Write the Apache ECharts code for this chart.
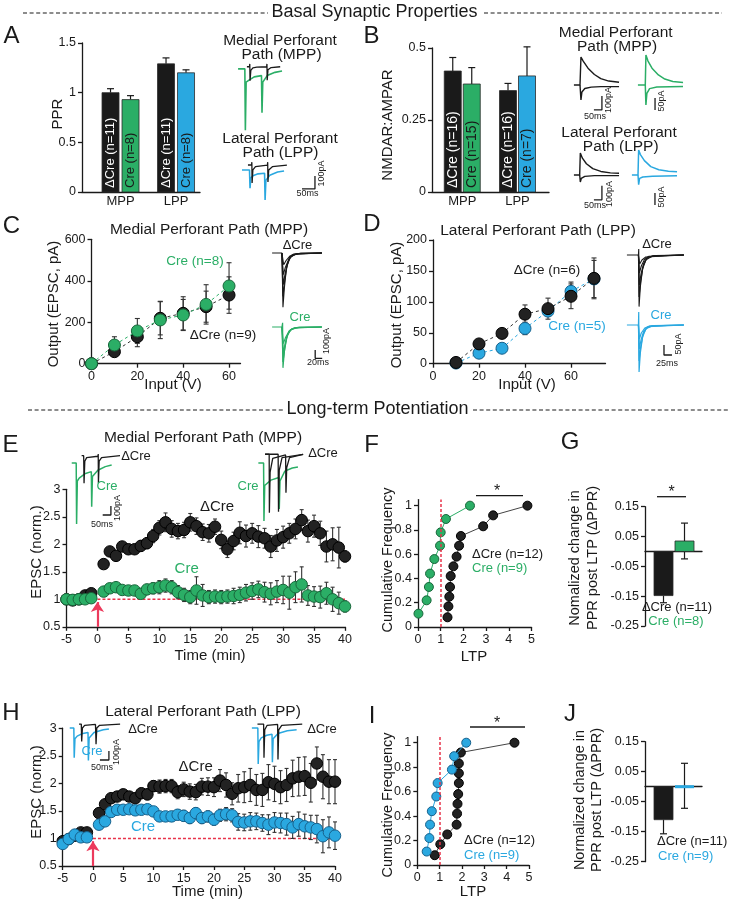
<!DOCTYPE html>
<html>
<head>
<meta charset="utf-8">
<title>Basal synaptic properties and LTP</title>
<script src="https://cdn.jsdelivr.net/npm/echarts@6.0.0/dist/echarts.min.js"></script>
<style>
html,body{margin:0;padding:0;background:#ffffff;}
#chart{width:729px;height:903px;}
</style>
</head>
<body>
<div id="chart"></div>
<script>
// ================= DATA =================
// Panel A – paired-pulse ratio
const pathways = ['MPP', 'LPP'];
const pprDcre = [1.00, 1.29];
const pprDcreErr = [0.04, 0.06];
const pprCre = [0.93, 1.20];
const pprCreErr = [0.04, 0.03];
const pprDcreN = ['ΔCre (n=11)', 'ΔCre (n=11)'];
const pprCreN = ['Cre (n=8)', 'Cre (n=8)'];
const pprTicks = [0, 0.5, 1, 1.5];

// Panel B – NMDAR:AMPAR
const nmdaDcre = [0.42, 0.352];
const nmdaDcreErr = [0.047, 0.025];
const nmdaCre = [0.375, 0.403];
const nmdaCreErr = [0.057, 0.101];
const nmdaDcreN = ['ΔCre (n=16)', 'ΔCre (n=16)'];
const nmdaCreN = ['Cre (n=15)', 'Cre (n=7)'];
const nmdaTicks = [0, 0.25, 0.5];

// Panel C – input/output MPP
const mppInput = [0, 10, 20, 30, 40, 50, 60];
const mppDcre = [0, 58, 130, 219, 243, 275, 331];
const mppDcreErr = [4, 18, 48, 80, 80, 75, 88];
const mppCre = [0, 90, 158, 211, 235, 286, 375];
const mppCreErr = [4, 40, 60, 90, 75, 95, 112];
const ioXTicks = [0, 20, 40, 60];
const mppYTicks = [0, 200, 400, 600];

// Panel D – input/output LPP
const lppInput = [10, 20, 30, 40, 50, 60, 70];
const lppDcre = [2, 32, 49, 80, 89, 109, 138];
const lppDcreErr = [2, 6, 8, 15, 17, 20, 33];
const lppCre = [1, 17, 25, 57, 85, 117, 137];
const lppCreErr = [1, 4, 5, 10, 8, 15, 30];
const lppYTicks = [0, 50, 100, 150, 200];

// Panels E / H – LTP time course
const ltpTime = [-5,-4,-3,-2,-1,1,2,3,4,5,6,7,8,9,10,11,12,13,14,15,16,17,18,19,20,21,22,23,24,25,26,27,28,29,30,31,32,33,34,35,36,37,38,39,40];
const timeTicks = [-5, 0, 5, 10, 15, 20, 25, 30, 35, 40];
const normTicks = [0.5, 1, 1.5, 2, 2.5, 3];
const stimTime = 0, lastTime = 40, normBaseline = 1, arrowFrom = 0.5, arrowTo = 0.95;

const eDcre = [1.00,0.98,1.00,1.07,1.11, 1.64,1.87,1.79,1.96,1.91,1.91,1.97,2.02,2.15,2.30, 2.40,2.28,2.24,2.26,2.40,2.33,2.22,2.20,2.32,2.08, 1.91,2.06,2.21,2.15,2.20,2.14,2.11,1.96,2.07,2.13, 2.20,2.28,2.44,2.24,2.33,2.20,1.96,2.00,1.94,1.78];
const eDcreErr = [0.03,0.03,0.03,0.04,0.04, 0.03,0.04,0.05,0.06,0.08,0.08,0.10,0.10,0.12,0.13, 0.17,0.15,0.14,0.14,0.16,0.15,0.15,0.16,0.14,0.16, 0.15,0.16,0.20,0.20,0.18,0.20,0.18,0.20,0.20,0.20, 0.18,0.18,0.19,0.20,0.20,0.22,0.28,0.30,0.37,0.10];
const eCre = [1.00,0.99,1.00,1.00,1.02, 1.14,1.20,1.22,1.17,1.16,1.16,1.10,1.18,1.20,1.22, 1.25,1.22,1.13,1.08,1.04,1.16,1.07,1.04,1.05,1.04, 1.05,1.06,1.08,1.12,1.15,1.18,1.13,1.10,1.14,1.17, 1.12,1.22,1.27,1.07,1.05,1.04,1.11,1.00,0.93,0.87];
const eCreErr = [0.04,0.04,0.04,0.04,0.05, 0.06,0.07,0.08,0.08,0.08,0.08,0.08,0.09,0.10,0.12, 0.12,0.12,0.12,0.12,0.12,0.25,0.20,0.12,0.12,0.12, 0.12,0.14,0.14,0.15,0.15,0.15,0.18,0.20,0.20,0.25, 0.30,0.28,0.32,0.18,0.18,0.20,0.20,0.22,0.20,0.10];

const hDcre = [0.95,0.99,1.05,1.11,1.11, 1.46,1.62,1.73,1.76,1.80,1.76,1.73,1.82,1.80,1.95, 1.94,1.95,1.95,1.84,1.89,1.85,1.84,1.94,1.94,1.93, 2.05,1.97,1.81,1.91,1.93,1.97,1.88,1.88,2.02,1.99, 1.93,1.97,2.09,2.12,2.13,2.01,2.36,2.12,2.03,2.03];
const hDcreErr = [0.03,0.03,0.03,0.03,0.03, 0.04,0.05,0.06,0.07,0.07,0.08,0.08,0.09,0.10,0.10, 0.12,0.12,0.12,0.12,0.13,0.14,0.14,0.15,0.16,0.17, 0.20,0.22,0.20,0.25,0.28,0.30,0.28,0.30,0.32,0.32, 0.30,0.30,0.33,0.35,0.35,0.35,0.30,0.40,0.40,0.40];
const hCre = [0.90,0.99,1.07,1.02,1.02, 1.25,1.31,1.48,1.52,1.52,1.53,1.51,1.52,1.53,1.49, 1.40,1.40,1.40,1.43,1.41,1.37,1.46,1.37,1.40,1.34, 1.42,1.44,1.42,1.30,1.29,1.31,1.31,1.28,1.25,1.29, 1.28,1.26,1.20,1.26,1.22,1.20,1.17,1.04,1.11,1.05];
const hCreErr = [0.03,0.03,0.03,0.03,0.03, 0.04,0.05,0.05,0.06,0.06,0.06,0.07,0.07,0.08,0.08, 0.08,0.08,0.09,0.09,0.10,0.10,0.10,0.10,0.10,0.10, 0.11,0.12,0.12,0.15,0.15,0.16,0.15,0.15,0.18,0.18, 0.18,0.20,0.20,0.22,0.22,0.22,0.25,0.30,0.28,0.25];

// Panels F / I – cumulative distributions of LTP
const cdfMppDcre = [1.30,1.34,1.38,1.41,1.44,1.56,1.70,1.81,1.89,2.87,3.31,4.82];
const cdfDcreFrac = [0.08,0.17,0.25,0.33,0.42,0.50,0.58,0.67,0.75,0.83,0.92,1.00];
const cdfMppCre = [0.02,0.38,0.48,0.53,0.72,0.97,1.00,1.23,2.29];
const cdfCreFrac = [0.11,0.22,0.33,0.44,0.56,0.67,0.78,0.89,1.00];
const cdfLppDcre = [0.78,1.03,1.34,1.76,1.78,1.80,1.83,1.86,1.86,1.86,1.95,4.35];
const cdfLppCre = [0.42,0.54,0.57,0.65,0.85,0.91,1.55,1.65,2.19];
const ltpRef = 1;
const ltpTicks = [0, 1, 2, 3, 4, 5];
const fracTicks = [0, 0.2, 0.4, 0.6, 0.8, 1];

// Panels G / J – change in PPR after LTP
const dpprMpp = [-0.148, 0.035];
const dpprMppErr = [0.024, 0.06];
const dpprLpp = [-0.11, 0.003];
const dpprLppErr = [0.047, 0.075];
const dpprTicks = [-0.25, -0.15, -0.05, 0.05, 0.15];

// Example traces ([ms, pA])
const trA_mpp_cre = [[8,-8],[34,-8],[36,-480],[39,-110],[50,-95],[70,-70],[98,-60],[100,-346],[103,-110],[120,-60],[150,-35],[177,-25]];
const trA_mpp_dcre = [[42,8],[52,8],[53,30],[54,-100],[57,-20],[65,0],[80,5],[118,8],[119,30],[120,-95],[123,-15],[135,2],[170,8]];
const trA_lpp_cre = [[23,0],[52,0],[54,-140],[57,-60],[65,-45],[85,-30],[110,-25],[112,-231],[115,-80],[130,-40],[160,-15],[185,-8]];
const trA_lpp_dcre = [[46,38],[60,38],[61,60],[62,-100],[65,0],[75,25],[121,38],[122,60],[123,-92],[126,0],[140,25],[196,38]];
const scaleA = [[254,-146],[304,-146],[304,-46]];

const trB_mpp_dcre_up = [[12,0],[50,0],[56,200],[70,170],[100,120],[140,75],[180,45],[230,28],[294,20]];
const trB_mpp_dcre_dn = [[50,0],[56,-107],[62,-50],[80,-25],[120,-15],[180,-12],[294,-12]];
const trB_mpp_cre_up = [[12,0],[58,0],[62,125],[75,100],[100,70],[140,42],[180,25],[230,15],[294,10]];
const trB_mpp_cre_dn = [[58,0],[62,-83],[68,-35],[85,-15],[130,-8],[294,-6]];
const trB_lpp_dcre_up = [[12,0],[48,0],[52,157],[65,120],[90,80],[130,45],[180,25],[240,15],[294,12]];
const trB_lpp_dcre_dn = [[48,0],[52,-50],[58,-25],[80,-10],[140,-5],[294,-5]];
const trB_lpp_cre_up = [[12,0],[50,0],[54,104],[65,85],[90,60],[130,35],[180,22],[240,16],[294,14]];
const trB_lpp_cre_dn = [[50,0],[54,-40],[60,-14],[80,-8],[140,-5],[294,-3]];
const scaleB_dcre = [[137,-178],[187,-178],[187,-78]];
const scaleB_mpp_cre = [[119,-104],[119,-54]];
const scaleB_lpp_cre = [[156,-125],[156,-75]];

const trC_dcre_1 = [[6,0],[34,0],[37,-650],[41,-420],[47,-180],[55,-60],[70,-15],[148,0]];
const trC_dcre_2 = [[34,0],[37,-520],[42,-330],[49,-150],[58,-50],[75,-10],[148,0]];
const trC_dcre_3 = [[34,0],[38,-380],[43,-250],[51,-110],[61,-35],[80,-8],[148,0]];
const trC_dcre_4 = [[34,0],[38,-260],[44,-170],[53,-80],[64,-25],[85,-5],[148,0]];
const trC_dcre_5 = [[34,0],[39,-140],[46,-90],[56,-40],[68,-12],[90,-3],[148,0]];
const trC_cre_1 = [[6,0],[34,0],[36,50],[37,-490],[41,-300],[47,-130],[55,-45],[70,-10],[148,0]];
const trC_cre_2 = [[34,0],[37,-420],[42,-260],[49,-110],[58,-35],[75,-8],[148,0]];
const trC_cre_3 = [[34,0],[38,-320],[43,-200],[51,-85],[61,-28],[80,-5],[148,0]];
const trC_cre_4 = [[34,0],[38,-200],[44,-130],[53,-60],[64,-18],[85,-4],[148,0]];
const scaleC = [[129,-276],[129,-376],[149,-376]];

const trD_dcre_1 = [[6,0],[42,0],[43,30],[44,-258],[48,-160],[55,-70],[65,-25],[85,-5],[184,0]];
const trD_dcre_2 = [[42,0],[44,-210],[49,-130],[57,-55],[68,-18],[90,-4],[184,0]];
const trD_dcre_3 = [[42,0],[45,-150],[50,-95],[59,-40],[70,-12],[95,-3],[184,0]];
const trD_dcre_4 = [[42,0],[45,-90],[51,-55],[61,-22],[75,-6],[184,0]];
const trD_dcre_5 = [[42,0],[46,-45],[53,-25],[65,-10],[184,0]];
const trD_cre_1 = [[6,0],[42,0],[43,65],[44,-235],[48,-140],[55,-60],[65,-20],[85,-4],[184,0]];
const trD_cre_2 = [[42,0],[44,-180],[49,-110],[57,-45],[68,-14],[90,-3],[184,0]];
const trD_cre_3 = [[42,0],[45,-120],[50,-75],[59,-30],[72,-8],[184,0]];
const trD_cre_4 = [[42,0],[45,-70],[51,-40],[62,-15],[78,-4],[184,0]];
const scaleD = [[122,-100],[122,-150],[147,-150]];

const trE_cre_a = [[20,0],[44,0],[46,-677],[50,-200],[60,-167],[90,-120],[125,-96],[127,-485],[131,-150],[160,-80],[200,-40],[234,-22]];
const trE_dcre_a = [[73,81],[84,81],[85,100],[86,-225],[90,20],[100,60],[160,75],[162,100],[163,-225],[167,20],[180,60],[279,81]];
const scaleE = [[186,-577],[230,-577],[230,-477]];
const trE_cre_b = [[18,0],[46,0],[48,-644],[52,-250],[60,-233],[85,-190],[128,-160],[130,-511],[134,-200],[160,-90],[200,-55],[230,-44]];
const trE_dcre_b = [[54,97],[76,97],[77,-552],[81,-100],[95,50],[164,90],[165,110],[166,-330],[170,-50],[185,60],[258,95]];
const trE_dcre_c = [[54,97],[124,97],[125,110],[126,-540],[130,-80],[145,60],[258,95]];

const trH_cre_a = [[20,0],[42,0],[44,-330],[48,-120],[60,-90],[90,-60],[118,-50],[120,-360],[124,-110],[150,-50],[200,-20],[230,-10]];
const trH_dcre_a = [[70,44],[82,44],[83,60],[84,-150],[88,0],[100,30],[158,40],[160,60],[161,-180],[165,0],[180,30],[290,44]];
const scaleH = [[182,-355],[230,-355],[230,-255]];
const trH_cre_b = [[10,0],[42,0],[44,-400],[48,-150],[60,-110],[90,-80],[118,-70],[120,-380],[124,-120],[150,-60],[200,-30],[250,-20]];
const trH_dcre_b = [[40,44],[73,44],[74,60],[75,-330],[79,-20],[92,30],[148,40],[149,60],[150,-350],[154,-20],[170,30],[280,44]];

// ================= STYLE / HELPERS =================
const FONT = '"Liberation Sans", Arial, Helvetica, sans-serif';
const INK = '#1a1a1a';
const GREEN = '#2bae66', GREEN_D = '#18663a';
const BLUE = '#2aa8e0', BLUE_D = '#17618c';
const RED = '#e8334a', ARROW = '#ec3a5c';

const grids = [], xAxes = [], yAxes = [], series = [], graphics = [];

function addGrid(left, top, width, height, xa, ya) {
  const gi = grids.length;
  grids.push({left: left, top: top, width: width, height: height, containLabel: false});
  xAxes.push(Object.assign({gridIndex: gi}, xa));
  yAxes.push(Object.assign({gridIndex: gi}, ya));
  return gi;
}
function axis(min, max, ticks, fmt, o) {
  o = o || {};
  return {
    type: 'value', min: min, max: max,
    splitLine: {show: false},
    axisLine: {show: true, onZero: !!o.onZero, lineStyle: {color: INK, width: 1.3}},
    axisTick: o.noTicks ? {show: false} : {show: true, length: 4, customValues: ticks, lineStyle: {color: INK, width: 1.3}},
    axisLabel: o.noLabels ? {show: false} : {show: true, customValues: ticks, formatter: fmt || (v => String(v)),
      color: INK, fontSize: o.fs || 12.5, fontFamily: FONT, margin: o.margin == null ? 6 : o.margin}
  };
}
function hidden(min, max) { return {type: 'value', min: min, max: max, show: false, splitLine: {show: false}}; }
function inset(left, top, width, height, xmax, ymin, ymax) {
  return addGrid(left, top, width, height, hidden(0, xmax), hidden(ymin, ymax));
}
function trace(gi, data, color, w) {
  series.push({type: 'line', xAxisIndex: gi, yAxisIndex: gi, data: data, symbol: 'none', showSymbol: false,
    clip: false, silent: true, z: 2, lineStyle: {color: color, width: w || 1.2}, emphasis: {disabled: true}});
}
function bars(gi, values, errs, offset, width, fills, errModes, labels, labelColors, labelSize) {
  series.push({
    type: 'custom', xAxisIndex: gi, yAxisIndex: gi, clip: false, silent: true, z: 3,
    encode: {x: 0, y: 1},
    data: values.map((v, i) => [i, v, errs[i]]),
    renderItem: function (params, api) {
      const i = params.dataIndex;
      const xv = api.value(0), v = api.value(1), e = api.value(2);
      const p0 = api.coord([xv, 0]), p1 = api.coord([xv, v]);
      const cx = p0[0] + offset;
      const dir = v >= 0 ? 1 : -1;
      const hi = api.coord([xv, v + dir * e])[1];
      const lo = api.coord([xv, v - dir * e])[1];
      const es = {stroke: INK, lineWidth: 1.2};
      const kids = [];
      const both = errModes[i] === 'both';
      kids.push({type: 'line', shape: {x1: cx, y1: both ? lo : p1[1], x2: cx, y2: hi}, style: es});
      kids.push({type: 'line', shape: {x1: cx - 3.5, y1: hi, x2: cx + 3.5, y2: hi}, style: es});
      if (both) kids.push({type: 'line', shape: {x1: cx - 3.5, y1: lo, x2: cx + 3.5, y2: lo}, style: es});
      const h = Math.abs(p1[1] - p0[1]);
      const small = h < 4;
      kids.push({type: 'rect', shape: {x: cx - width / 2, y: small ? p0[1] - 1.5 : Math.min(p0[1], p1[1]), width: width, height: small ? 3 : h},
        style: {fill: fills[i], stroke: small ? fills[i] : '#2b2b2b', lineWidth: small ? 0 : 0.8}});
      if (labels) kids.push({type: 'text', x: cx, y: p0[1] - 4, rotation: Math.PI / 2,
        style: {text: labels[i], fill: labelColors[i], font: labelSize + 'px ' + FONT,
          align: 'left', verticalAlign: 'middle', textAlign: 'left', textVerticalAlign: 'middle'}});
      return {type: 'group', children: kids};
    }
  });
}
function errbars(gi, xs, ys, es, color, cap, z) {
  series.push({type: 'custom', xAxisIndex: gi, yAxisIndex: gi, clip: false, silent: true, z: z || 2,
    encode: {x: 0, y: 1},
    data: xs.map((x, i) => [x, ys[i], es[i]]),
    renderItem: function (params, api) {
      const x = api.value(0), y = api.value(1), e = api.value(2);
      const a = api.coord([x, y + e]), b = api.coord([x, y - e]);
      const s = {stroke: color, lineWidth: 1.1};
      return {type: 'group', children: [
        {type: 'line', shape: {x1: a[0], y1: a[1], x2: b[0], y2: b[1]}, style: s},
        {type: 'line', shape: {x1: a[0] - cap, y1: a[1], x2: a[0] + cap, y2: a[1]}, style: s},
        {type: 'line', shape: {x1: b[0] - cap, y1: b[1], x2: b[0] + cap, y2: b[1]}, style: s}
      ]};
    }});
}
function points(gi, xs, ys, fill, border, size, z, line) {
  const s = {type: line ? 'line' : 'scatter', xAxisIndex: gi, yAxisIndex: gi, silent: true, z: z || 3,
    data: xs.map((x, i) => [x, ys[i]]), symbol: 'circle', symbolSize: size, clip: false,
    emphasis: {disabled: true},
    itemStyle: {color: fill, borderColor: border, borderWidth: 1, opacity: 1}};
  if (line) { s.lineStyle = line; s.showSymbol = true; }
  series.push(s);
  return s;
}
function T(x, y, text, size, color, o) {
  o = o || {};
  graphics.push({type: 'text', x: x, y: y, rotation: o.rot ? Math.PI / 2 : 0, silent: true, z: 100,
    style: {text: text, fill: color || INK, font: size + 'px ' + FONT,
      textAlign: o.align || 'center', textVerticalAlign: 'middle', align: o.align || 'center', verticalAlign: 'middle'}});
}
function L(x1, y1, x2, y2, dash) {
  graphics.push({type: 'line', silent: true, z: 100, shape: {x1: x1, y1: y1, x2: x2, y2: y2},
    style: {stroke: INK, lineWidth: dash ? 1.1 : 1.3, lineDash: dash || null}});
}
const catFmt = v => pathways[Math.round(v)];
const dpprFmt = v => v.toFixed(2);

// ================= PANEL A =================
const gA = addGrid(82, 43, 118, 149, axis(-0.694, 1.432, [0, 1], catFmt, {noTicks: true, margin: 3, onZero: true, fs: 13}), axis(0, 1.5, pprTicks));
bars(gA, pprDcre, pprDcreErr, -10, 17, [INK, INK], ['out', 'out'], pprDcreN, ['#ffffff', '#ffffff'], 13);
bars(gA, pprCre, pprCreErr, 10, 17, [GREEN, BLUE], ['out', 'out'], pprCreN, [INK, INK], 13);
const gAm = inset(236, 60, 52, 78, 200, -540, 60);
trace(gAm, trA_mpp_cre, GREEN, 1.6);
trace(gAm, trA_mpp_dcre, INK, 1.3);
const gAl = inset(236, 158, 90, 48, 346.5, -277, 92);
trace(gAl, trA_lpp_cre, BLUE, 1.6);
trace(gAl, trA_lpp_dcre, INK, 1.3);
trace(gAl, scaleA, INK, 1.3);

// ================= PANEL B =================
const gB = addGrid(432, 48, 117, 144, axis(-0.5475, 1.57, [0, 1], catFmt, {noTicks: true, margin: 3, onZero: true, fs: 13}), axis(0, 0.5, nmdaTicks));
bars(gB, nmdaDcre, nmdaDcreErr, -9.5, 17, [INK, INK], ['out', 'out'], nmdaDcreN, ['#ffffff', '#ffffff'], 14);
bars(gB, nmdaCre, nmdaCreErr, 9.5, 17, [GREEN, BLUE], ['out', 'out'], nmdaCreN, [INK, INK], 14);
const gBm1 = inset(572, 50, 52, 62, 325, -193, 250);
trace(gBm1, trB_mpp_dcre_up, INK, 1.4); trace(gBm1, trB_mpp_dcre_dn, INK, 1.4); trace(gBm1, scaleB_dcre, INK, 1.3);
const gBm2 = inset(636, 50, 52, 62, 325, -112.5, 146);
trace(gBm2, trB_mpp_cre_up, GREEN, 1.5); trace(gBm2, trB_mpp_cre_dn, GREEN, 1.5); trace(gBm2, scaleB_mpp_cre, INK, 1.3);
const gBl1 = inset(572, 145, 52, 62, 325, -229, 214);
trace(gBl1, trB_lpp_dcre_up, INK, 1.4); trace(gBl1, trB_lpp_dcre_dn, INK, 1.4); trace(gBl1, scaleB_dcre, INK, 1.3);
const gBl2 = inset(630, 145, 52, 62, 325, -133, 125);
trace(gBl2, trB_lpp_cre_up, BLUE, 1.5); trace(gBl2, trB_lpp_cre_dn, BLUE, 1.5); trace(gBl2, scaleB_lpp_cre, INK, 1.3);

// ================= PANEL C =================
const gC = addGrid(91.5, 239.3, 149, 124.4, axis(0, 65, ioXTicks), axis(0, 600, mppYTicks));
errbars(gC, mppInput, mppDcre, mppDcreErr, '#333', 2.5, 2);
errbars(gC, mppInput, mppCre, mppCreErr, '#333', 2.5, 2);
points(gC, mppInput, mppDcre, '#222', '#000', 12, 3, {color: '#333', width: 1, type: [3, 3]});
points(gC, mppInput, mppCre, GREEN, GREEN_D, 12, 4, {color: GREEN, width: 1, type: [3, 3]});
const gC1 = inset(270, 248, 55, 62, 157, -684, 60);
[trC_dcre_1, trC_dcre_2, trC_dcre_3, trC_dcre_4, trC_dcre_5].forEach(d => trace(gC1, d, INK, 1.1));
const gC2 = inset(270, 322, 55, 48, 157, -516, 60);
[trC_cre_1, trC_cre_2, trC_cre_3, trC_cre_4].forEach(d => trace(gC2, d, GREEN, 1.2));
trace(gC2, scaleC, INK, 1.3);

// ================= PANEL D =================
const gD = addGrid(433, 240, 172.5, 123.7, axis(0, 75, ioXTicks), axis(0, 200, lppYTicks));
errbars(gD, lppInput, lppCre, lppCreErr, '#333', 2.5, 2);
errbars(gD, lppInput, lppDcre, lppDcreErr, '#333', 2.5, 2);
points(gD, lppInput, lppCre, BLUE, BLUE_D, 12, 3, {color: BLUE, width: 1, type: [3, 3]});
points(gD, lppInput, lppDcre, '#222', '#000', 12, 4, {color: '#333', width: 1, type: [3, 3]});
const gD1 = inset(625, 248, 62, 62, 194, -275, 35);
[trD_dcre_1, trD_dcre_2, trD_dcre_3, trD_dcre_4, trD_dcre_5].forEach(d => trace(gD1, d, INK, 1.1));
const gD2 = inset(625, 310, 62, 63, 194, -240, 75);
[trD_cre_1, trD_cre_2, trD_cre_3, trD_cre_4].forEach(d => trace(gD2, d, BLUE, 1.2));
trace(gD2, scaleD, INK, 1.3);

// ================= PANEL E / H =================
function ltpPanel(gi, dc, dcErr, cr, crErr, crFill, crBorder) {
  series.push({type: 'line', xAxisIndex: gi, yAxisIndex: gi, data: [[stimTime, normBaseline], [lastTime, normBaseline]],
    symbol: 'none', silent: true, clip: false, z: 1, lineStyle: {color: RED, width: 1.6, type: [3, 2]},
    markLine: {silent: true, symbol: ['none', 'arrow'], symbolSize: 10, label: {show: false}, animation: false,
      lineStyle: {color: ARROW, width: 2.2, type: 'solid'},
      data: [[{coord: [stimTime, arrowFrom]}, {coord: [stimTime, arrowTo]}]]}});
  errbars(gi, ltpTime, dc, dcErr, '#333', 2, 2);
  points(gi, ltpTime, dc, '#222', '#000', 11.5, 3);
  errbars(gi, ltpTime, cr, crErr, '#333', 2, 4);
  points(gi, ltpTime, cr, crFill, crBorder, 11.5, 5);
}
const gE = addGrid(66.5, 489.3, 278.5, 137.5, axis(-5, 40, timeTicks), axis(0.5, 3, normTicks));
ltpPanel(gE, eDcre, eDcreErr, eCre, eCreErr, GREEN, GREEN_D);
const gE1 = inset(68, 448, 60, 82, 321.6, -743.7, 166.5);
trace(gE1, trE_cre_a, GREEN, 1.5); trace(gE1, trE_dcre_a, INK, 1.3); trace(gE1, scaleE, INK, 1.3);
const gE2 = inset(255, 448, 60, 82, 321.6, -743.7, 166.5);
trace(gE2, trE_cre_b, GREEN, 1.5); trace(gE2, trE_dcre_b, INK, 1.3); trace(gE2, trE_dcre_c, INK, 1.3);

const gH = addGrid(62.7, 728.2, 272.3, 137.8, axis(-5, 40, timeTicks), axis(0.5, 3, normTicks));
ltpPanel(gH, hDcre, hDcreErr, hCre, hCreErr, BLUE, BLUE_D);
const gH1 = inset(66, 718, 60, 52, 321.6, -466, 111);
trace(gH1, trH_cre_a, BLUE, 1.5); trace(gH1, trH_dcre_a, INK, 1.3); trace(gH1, scaleH, INK, 1.3);
const gH2 = inset(250, 718, 60, 52, 321.6, -466, 111);
trace(gH2, trH_cre_b, BLUE, 1.5); trace(gH2, trH_dcre_b, INK, 1.3);

// ================= PANEL F / I =================
function cdfPanel(gi, dc, cr, crColor, crBorder) {
  const s = points(gi, dc, cdfDcreFrac, '#222', '#000', 9, 3, {color: '#444', width: 1});
  s.markLine = {silent: true, symbol: ['none', 'none'], label: {show: false}, animation: false,
    lineStyle: {color: RED, width: 1.5, type: [3, 2]}, data: [{xAxis: ltpRef}]};
  points(gi, cr, cdfCreFrac, crColor, crBorder, 9, 4, {color: crColor, width: 1});
}
const gF = addGrid(418, 499.6, 113.5, 127.4, axis(0, 5, ltpTicks), axis(0, 1.05, fracTicks));
cdfPanel(gF, cdfMppDcre, cdfMppCre, GREEN, GREEN_D);
const gI = addGrid(417.3, 736.6, 111.7, 128.4, axis(0, 5, ltpTicks), axis(0, 1.05, fracTicks));
cdfPanel(gI, cdfLppDcre, cdfLppCre, BLUE, BLUE_D);

// ================= PANEL G / J =================
const gG = addGrid(645, 506.7, 57, 119.3, axis(-0.881, 1.833, [], null, {noTicks: true, noLabels: true, onZero: true}), axis(-0.25, 0.15, dpprTicks, dpprFmt));
bars(gG, dpprMpp, dpprMppErr, 0, 19, [INK, GREEN], ['out', 'both'], null);
const gJ = addGrid(645, 741.7, 57, 120, axis(-0.881, 1.833, [], null, {noTicks: true, noLabels: true, onZero: true}), axis(-0.25, 0.15, dpprTicks, dpprFmt));
bars(gJ, dpprLpp, dpprLppErr, 0, 19, [INK, BLUE], ['out', 'both'], null);

// ================= TEXT =================
T(374.5, 12.5, 'Basal Synaptic Properties', 18);
L(23, 13, 268, 13, [4, 2.6]); L(484, 13, 722, 13, [4, 2.6]);
T(377.5, 409.5, 'Long-term Potentiation', 18);
L(28, 410, 283, 410, [4, 2.6]); L(473, 410, 728, 410, [4, 2.6]);

T(11.5, 36, 'A', 24); T(371.5, 36, 'B', 24); T(11.5, 226, 'C', 24); T(372, 224, 'D', 24);
T(10.5, 445, 'E', 24); T(371.5, 445, 'F', 24); T(570, 442.5, 'G', 24);
T(11, 713, 'H', 24); T(372, 716, 'I', 24); T(570, 714, 'J', 24);

// A
T(58, 114, 'PPR', 15, INK, {rot: 1});
T(280, 40.7, 'Medial Perforant', 15.5); T(281.5, 54.5, 'Path (MPP)', 15.5);
T(280, 138.3, 'Lateral Perforant', 15.5); T(280.5, 152.5, 'Path (LPP)', 15.5);
T(321.5, 173.5, '100pA', 9, INK, {rot: 1}); T(307.5, 193.5, '50ms', 9);
// B
T(388, 125, 'NMDAR:AMPAR', 15, INK, {rot: 1});
T(615.7, 32.3, 'Medial Perforant', 15.5); T(617, 46.5, 'Path (MPP)', 15.5);
T(619, 132.3, 'Lateral Perforant', 15.5); T(620.7, 146.7, 'Path (LPP)', 15.5);
T(609, 100, '100pA', 9, INK, {rot: 1}); T(595, 116.5, '50ms', 9); T(661.5, 101, '50pA', 9, INK, {rot: 1});
T(609.5, 194, '100pA', 9, INK, {rot: 1}); T(595, 206, '50ms', 9); T(661.5, 197, '50pA', 9, INK, {rot: 1});
// C
T(209, 230, 'Medial Perforant Path (MPP)', 15.5);
T(54, 304, 'Output (EPSC, pA)', 15, INK, {rot: 1});
T(173, 385, 'Input (V)', 15);
T(195, 261.7, 'Cre (n=8)', 13.5, GREEN);
T(223, 335, 'ΔCre (n=9)', 13.5);
T(297.5, 245, 'ΔCre', 13); T(300, 317.3, 'Cre', 13, GREEN);
T(327, 341, '100pA', 9, INK, {rot: 1}); T(318, 363, '20ms', 9);
// D
T(538, 230.7, 'Lateral Perforant Path (LPP)', 15.5);
T(397, 305, 'Output (EPSC, pA)', 15, INK, {rot: 1});
T(527, 385, 'Input (V)', 15);
T(547, 270, 'ΔCre (n=6)', 13.5);
T(577, 326.7, 'Cre (n=5)', 13.5, BLUE);
T(657, 244, 'ΔCre', 13); T(661, 315, 'Cre', 13, BLUE);
T(679, 344, '50pA', 9, INK, {rot: 1}); T(667, 364, '25ms', 9);
// E
T(203, 438, 'Medial Perforant Path (MPP)', 15.5);
T(37, 552, 'EPSC (norm.)', 15, INK, {rot: 1});
T(210, 656, 'Time (min)', 15);
T(217, 506.7, 'ΔCre', 15); T(186.7, 569.3, 'Cre', 15, GREEN);
T(136, 456.7, 'ΔCre', 13); T(107, 486.7, 'Cre', 13, GREEN);
T(117.3, 508, '100pA', 9, INK, {rot: 1}); T(102, 525, '50ms', 9);
T(323, 453.5, 'ΔCre', 13); T(248, 486, 'Cre', 13, GREEN);
// F
T(388, 560, 'Cumulative Frequency', 14.5, INK, {rot: 1});
T(474, 657, 'LTP', 15);
T(472, 554, 'ΔCre (n=12)', 13, INK, {align: 'left'});
T(472, 568.3, 'Cre (n=9)', 13, GREEN, {align: 'left'});
L(476, 495.7, 523, 495.7); T(497, 492, '*', 16);
// G
T(575, 558, 'Nomalized change in', 14.5, INK, {rot: 1});
T(592.5, 558, 'PPR post LTP (ΔPPR)', 14.5, INK, {rot: 1});
T(677, 607, 'ΔCre (n=11)', 13); T(676, 621, 'Cre (n=8)', 13, GREEN);
L(657, 496.7, 686, 496.7); T(671.5, 493, '*', 16);
// H
T(203, 712, 'Lateral Perforant Path (LPP)', 15.5);
T(37, 792, 'EPSC (norm.)', 15, INK, {rot: 1});
T(207.5, 891.7, 'Time (min)', 15);
T(195.7, 766.7, 'ΔCre', 15); T(143, 826.7, 'Cre', 15, BLUE);
T(143, 729, 'ΔCre', 13); T(92, 751, 'Cre', 13, BLUE);
T(116.5, 752, '100pA', 9, INK, {rot: 1}); T(102, 768, '50ms', 9);
T(322, 729, 'ΔCre', 13);
// I
T(388, 805, 'Cumulative Frequency', 14.5, INK, {rot: 1});
T(473, 891.7, 'LTP', 15);
T(464, 840, 'ΔCre (n=12)', 13, INK, {align: 'left'});
T(464, 855, 'Cre (n=9)', 13, BLUE, {align: 'left'});
L(470, 727, 525, 727); T(497, 723.5, '*', 16);
// J
T(580, 800, 'Normalized change in', 14.5, INK, {rot: 1});
T(597, 800, 'PPR post LTP (ΔPPR)', 14.5, INK, {rot: 1});
T(657, 841.7, 'ΔCre (n=11)', 13, INK, {align: 'left'});
T(658, 856.7, 'Cre (n=9)', 13, BLUE, {align: 'left'});

// ================= RENDER =================
const chart = echarts.init(document.getElementById('chart'), null, {renderer: 'canvas'});
chart.setOption({
  animation: false,
  backgroundColor: '#ffffff',
  textStyle: {fontFamily: FONT},
  tooltip: {show: false},
  grid: grids,
  xAxis: xAxes,
  yAxis: yAxes,
  series: series,
  graphic: {elements: graphics}
});
</script>
</body>
</html>
